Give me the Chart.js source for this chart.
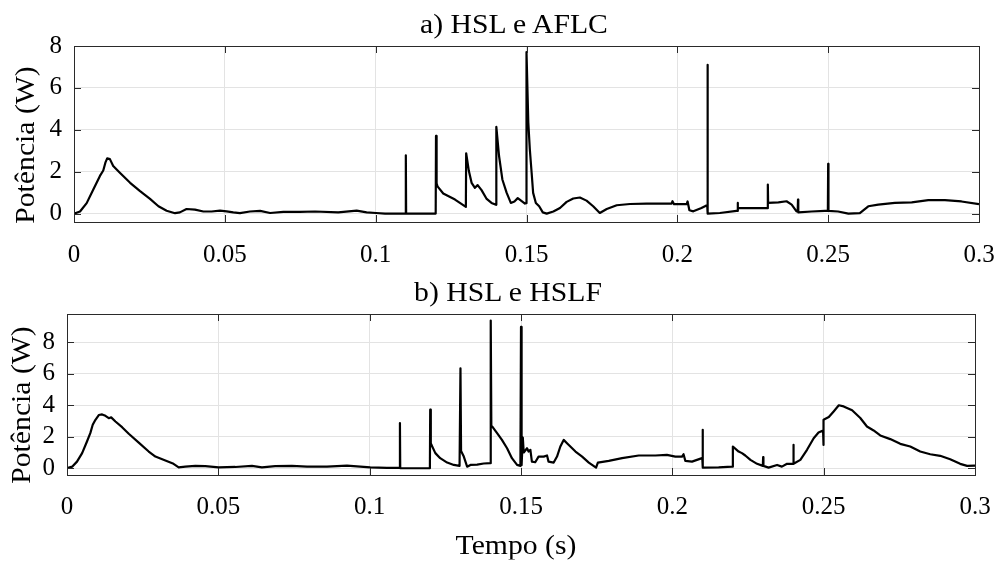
<!DOCTYPE html>
<html><head><meta charset="utf-8">
<script src="https://cdn.jsdelivr.net/npm/chart.js@4"></script>
<style>
html,body{margin:0;padding:0;background:#fff;}
#wrap{position:relative;width:999px;height:561px;overflow:hidden;font-family:"Liberation Serif","Times New Roman",serif;color:#000;}
canvas{position:absolute;left:0;}
.t{position:absolute;white-space:nowrap;font-size:27px;line-height:27px;transform:translate(-50%,-50%) scaleX(1.1);}
.r{transform:translate(-50%,-50%) rotate(-90deg) scaleX(1.1);}
</style></head><body>
<div id="wrap">
<canvas id="c1" width="999" height="280" style="top:0"></canvas>
<canvas id="c2" width="999" height="281" style="top:280px"></canvas>
<div class="t" style="left:514px;top:24px">a) HSL e AFLC</div>
<div class="t" style="left:508px;top:292px">b) HSL e HSLF</div>
<div class="t" style="left:516px;top:545px">Tempo (s)</div>
<div class="t r" style="left:25px;top:145px">Potência (W)</div>
<div class="t r" style="left:21px;top:405px">Potência (W)</div>
</div>
<script>
// ---- data ----
const xTickVals = [0, 0.05, 0.1, 0.15, 0.2, 0.25, 0.3];
const xTickLabels = ['0', '0.05', '0.1', '0.15', '0.2', '0.25', '0.3'];
const yTicksA = [0, 2, 4, 6, 8];
const yTicksB = [0, 2, 4, 6, 8];

// a) HSL e AFLC : time (s) and power (W)
const tA = [0,0.002,0.0042,0.0064,0.0086,0.0097,0.0104,0.011,0.0119,0.013,0.0152,0.0186,0.0219,0.0252,0.028,0.0307,0.0335,0.0351,0.0373,0.0401,0.0429,0.0456,0.0484,0.0506,0.0528,0.055,0.0583,0.0617,0.065,0.0694,0.0749,0.0799,0.0876,0.0937,0.097,0.1001,0.1031,0.1099,0.11,0.1101,0.1199,0.12,0.1202,0.1205,0.1224,0.1263,0.1299,0.13,0.1309,0.1318,0.1329,0.1338,0.1351,0.1368,0.1384,0.1399,0.14,0.1409,0.142,0.1434,0.1448,0.146,0.1471,0.1484,0.1495,0.1499,0.15,0.1506,0.1511,0.1517,0.1522,0.1531,0.1542,0.1554,0.1567,0.1589,0.1611,0.1633,0.1655,0.1677,0.1699,0.1721,0.1743,0.1766,0.1799,0.1843,0.1898,0.1942,0.1981,0.1984,0.1989,0.2031,0.2034,0.204,0.2053,0.208,0.2095,0.2099,0.21,0.2101,0.2141,0.2196,0.2199,0.22,0.2201,0.2241,0.2296,0.2299,0.23,0.2301,0.2335,0.2362,0.2379,0.2395,0.2399,0.24,0.2401,0.2445,0.2489,0.2499,0.25,0.2501,0.2533,0.2567,0.2605,0.2633,0.2666,0.2721,0.2777,0.2832,0.2887,0.2942,0.3];
const pA = [0,0.1,0.5,1.15,1.8,2.06,2.43,2.64,2.6,2.27,1.95,1.47,1.07,0.7,0.35,0.14,0.02,0.06,0.22,0.19,0.1,0.1,0.14,0.11,0.06,0.02,0.1,0.13,0.03,0.08,0.08,0.1,0.06,0.14,0.06,0.03,0,0,2.78,0,0,3.71,1.45,1.3,0.96,0.67,0.32,2.88,2.03,1.47,1.23,1.36,1.12,0.7,0.51,0.42,4.14,2.75,1.63,1.0,0.51,0.58,0.74,0.6,0.48,0.5,7.71,4.35,3.07,1.95,0.99,0.51,0.35,0.06,0,0.1,0.27,0.56,0.72,0.77,0.62,0.35,0.03,0.22,0.4,0.46,0.48,0.48,0.48,0.59,0.45,0.45,0.58,0.16,0.11,0.27,0.38,0.4,7.1,0,0.03,0.13,0.13,0.51,0.26,0.26,0.26,0.26,1.39,0.51,0.54,0.59,0.43,0.11,0.11,0.67,0.06,0.1,0.13,0.13,2.38,0.13,0.1,0,0.02,0.35,0.43,0.51,0.54,0.64,0.64,0.58,0.45];

// b) HSL e HSLF : time (s) and power (W)
const tB = [0,0.0017,0.0033,0.005,0.0066,0.0077,0.0085,0.0094,0.0105,0.0116,0.0127,0.0138,0.0146,0.016,0.0182,0.0204,0.0237,0.027,0.0292,0.0325,0.0352,0.0369,0.0391,0.0424,0.0457,0.0501,0.0556,0.0611,0.0644,0.0688,0.0743,0.0793,0.0859,0.0925,0.1002,0.1057,0.1099,0.11,0.1101,0.1199,0.12,0.1202,0.1204,0.1217,0.1233,0.1256,0.1278,0.1297,0.13,0.1302,0.1311,0.1322,0.1333,0.1355,0.1377,0.1399,0.14,0.1402,0.1407,0.1421,0.1437,0.1454,0.147,0.1487,0.1498,0.15,0.1502,0.1506,0.1509,0.152,0.1525,0.1531,0.1536,0.1547,0.1558,0.1575,0.1586,0.1591,0.1608,0.1619,0.163,0.1641,0.1652,0.1663,0.168,0.1702,0.1724,0.1748,0.1754,0.179,0.1834,0.1889,0.1944,0.1982,0.201,0.2032,0.2037,0.2043,0.2065,0.2098,0.2099,0.21,0.2101,0.2153,0.2197,0.2199,0.22,0.2219,0.223,0.2241,0.2258,0.228,0.2299,0.23,0.2301,0.2318,0.2346,0.2362,0.2379,0.2399,0.24,0.2401,0.2423,0.2445,0.2467,0.2483,0.2498,0.2499,0.25,0.2517,0.2533,0.255,0.2566,0.2594,0.2621,0.2643,0.2665,0.2687,0.272,0.2753,0.2786,0.2819,0.2852,0.2885,0.2918,0.2951,0.2974,0.3];
const pB = [0,0.1,0.42,0.96,1.7,2.23,2.76,3.08,3.38,3.42,3.33,3.18,3.23,2.97,2.61,2.19,1.63,1.06,0.74,0.49,0.28,0.06,0.1,0.15,0.13,0.06,0.08,0.15,0.06,0.13,0.15,0.1,0.1,0.17,0.06,0.02,0.02,2.87,0,0,3.72,1.6,1.49,0.96,0.64,0.36,0.21,0.15,6.35,1.1,0.74,0.1,0.21,0.23,0.3,0.32,9.38,2.7,2.6,2.23,1.8,1.27,0.64,0.21,0.15,8.98,0.2,1.95,1.0,1.27,1.06,1.17,0.42,0.38,0.74,0.74,0.81,0.42,0.36,0.74,1.38,1.8,1.59,1.38,1.06,0.74,0.36,0.04,0.36,0.47,0.64,0.81,0.81,0.85,0.74,0.74,0.89,0.47,0.42,0.64,0.64,2.44,0.04,0.06,0.1,0.1,1.38,1.06,0.96,0.81,0.53,0.28,0.15,0.7,0.15,0.04,0.21,0.1,0.28,0.28,1.49,0.28,0.53,1.17,1.91,2.27,2.4,1.48,3.08,3.25,3.61,4.0,3.93,3.68,3.19,2.65,2.4,2.08,1.85,1.55,1.38,1.06,0.89,0.79,0.57,0.28,0.15,0.17];

// ---- drawing ----
const FONT = 'Liberation Serif';
const boxPlugin = {
  id: 'box',
  afterDatasetsDraw(chart) {
    const {ctx, chartArea: a, scales: {x, y}} = chart;
    ctx.save();
    ctx.strokeStyle = '#2a2a2a';
    ctx.lineWidth = 1;
    ctx.beginPath();
    x.ticks.forEach(t => {
      const px = Math.round(x.getPixelForValue(t.value)) + 0.5;
      ctx.moveTo(px, a.top); ctx.lineTo(px, a.top + 7);
      ctx.moveTo(px, a.bottom); ctx.lineTo(px, a.bottom - 7);
    });
    y.ticks.forEach(t => {
      const py = Math.round(y.getPixelForValue(t.value)) + 0.5;
      ctx.moveTo(a.left, py); ctx.lineTo(a.left + 7, py);
      ctx.moveTo(a.right, py); ctx.lineTo(a.right - 7, py);
    });
    ctx.stroke();
    ctx.strokeRect(Math.round(a.left) + 0.5, Math.round(a.top) + 0.5,
                   Math.round(a.right - a.left), Math.round(a.bottom - a.top));
    ctx.restore();
  }
};

function makeChart(id, T, P, yTicks, yMin, yMax, pad, yW, xH, xPad) {
  const data = T.map((t, i) => ({x: t, y: P[i]}));
  return new Chart(document.getElementById(id), {
    type: 'line',
    data: {datasets: [{data, borderColor: '#000', borderWidth: 2.2, pointRadius: 0, tension: 0, fill: false, borderJoinStyle: 'round'}]},
    options: {
      responsive: false, animation: false, devicePixelRatio: 1,
      layout: {padding: pad},
      plugins: {legend: {display: false}, tooltip: {enabled: false}, title: {display: false}},
      scales: {
        x: {
          type: 'linear', min: 0, max: 0.3,
          afterBuildTicks: s => { s.ticks = xTickVals.map(v => ({value: v})); },
          afterFit: s => { s.height = xH; s.paddingLeft = 0; s.paddingRight = 0; },
          grid: {color: '#e3e3e3', drawTicks: false},
          border: {display: false},
          ticks: {autoSkip: false, maxRotation: 0, padding: xPad, color: '#000',
                  font: {family: FONT, size: 25},
                  callback: (v, i) => xTickLabels[i]}
        },
        y: {
          type: 'linear', min: yMin, max: yMax,
          afterBuildTicks: s => { s.ticks = yTicks.map(v => ({value: v})); },
          afterFit: s => { s.width = yW; s.paddingTop = 0; s.paddingBottom = 0; },
          grid: {color: '#e3e3e3', drawTicks: false},
          border: {display: false},
          ticks: {padding: 12, color: '#000', font: {family: FONT, size: 25},
                  callback: v => String(v)}
        }
      }
    },
    plugins: [boxPlugin]
  });
}

makeChart('c1', tA, pA, yTicksA, -0.4, 8, {top: 46, right: 20, bottom: 0, left: 0}, 74, 58, 18);
makeChart('c2', tB, pB, yTicksB, -0.43, 9.8, {top: 34, right: 24, bottom: 0, left: 0}, 67, 86, 17);
</script>
</body></html>
